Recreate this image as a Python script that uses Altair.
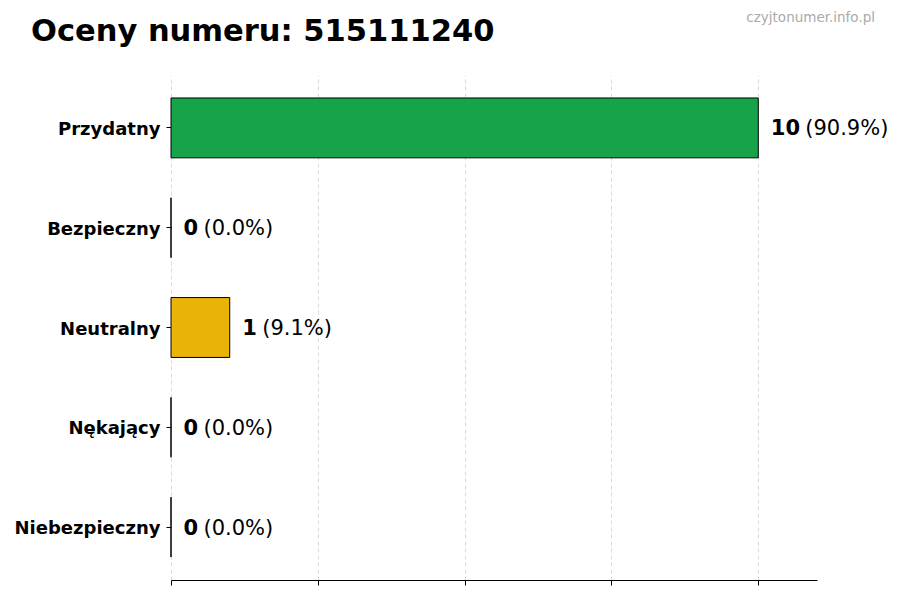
import altair as alt
import pandas as pd

categories = ["Przydatny", "Bezpieczny", "Neutralny", "Nękający", "Niebezpieczny"]
counts = [10, 0, 1, 0, 0]
percents = [90.9, 0.0, 9.1, 0.0, 0.0]
bar_colors = ["#17a34a", "#3b82f6", "#eab308", "#f97316", "#dc2626"]
x_ticks = [0, 2.5, 5, 7.5, 10]
title_text = "Oceny numeru: 515111240"
watermark = "czyjtonumer.info.pl"

df = pd.DataFrame({
    "cat": categories,
    "count": counts,
    "pct": [f"({p:.1f}%)" for p in percents],
})
df["num"] = df["count"].astype(str)
df["ndig"] = df["num"].str.len()

FONT = "DejaVu Sans"
LBL = 21

y_enc = alt.Y("cat:N", sort=categories,
              scale=alt.Scale(paddingInner=0.4, paddingOuter=0.23),
              axis=alt.Axis(title=None, domain=False, ticks=True, tickSize=5,
                            tickColor="black", labelFont=FONT, labelFontSize=18,
                            labelFontWeight="bold", labelColor="black",
                            labelPadding=6, labelOffset=2, grid=False))
x_enc = alt.X("count:Q", scale=alt.Scale(domain=[0, 11], nice=False, zero=True),
              axis=alt.Axis(title=None, values=x_ticks, labels=False, tickSize=5,
                            tickColor="black", domainColor="black", domainWidth=1,
                            grid=True, gridColor="#d0d0d0", gridDash=[4, 3],
                            gridWidth=0.8))

base = alt.Chart(df)

bars = base.mark_bar(stroke="black", strokeWidth=1).encode(
    y=y_enc, x=x_enc,
    color=alt.Color("cat:N", scale=alt.Scale(domain=categories, range=bar_colors), legend=None),
)

nums = base.mark_text(align="left", baseline="middle", dx=12.5, dy=1.5, font=FONT,
                      fontSize=LBL, fontWeight="bold", color="black").encode(
    y=alt.Y("cat:N", sort=categories), x="count:Q", text="num:N")

pct1 = base.transform_filter("datum.ndig == 1").mark_text(
    align="left", baseline="middle", dx=32.5, dy=1.5, font=FONT, fontSize=LBL,
    color="black").encode(y=alt.Y("cat:N", sort=categories), x="count:Q", text="pct:N")

pct2 = base.transform_filter("datum.ndig == 2").mark_text(
    align="left", baseline="middle", dx=47, dy=1.5, font=FONT, fontSize=LBL,
    color="black").encode(y=alt.Y("cat:N", sort=categories), x="count:Q", text="pct:N")

wm = alt.Chart(pd.DataFrame({"w": [watermark]})).mark_text(
    align="right", baseline="middle", font=FONT, fontSize=13.5, color="#aaaaaa").encode(
    text="w:N", x=alt.value(704), y=alt.value(-57))

ttl = alt.Chart(pd.DataFrame({"t": [title_text]})).mark_text(
    align="left", baseline="alphabetic", font=FONT, fontSize=30.5, fontWeight="bold",
    color="black").encode(text="t:N", x=alt.value(-140), y=alt.value(-34))

chart = alt.layer(bars, nums, pct1, pct2, wm, ttl).properties(
    width=646, height=505,
    autosize=alt.AutoSizeParams(type="none"),
    padding={"left": 163, "top": 67, "right": 75, "bottom": 12},
    background="white",
).configure_view(stroke=None)

chart.save("out.html", embed_options={"renderer": "svg", "actions": False})
